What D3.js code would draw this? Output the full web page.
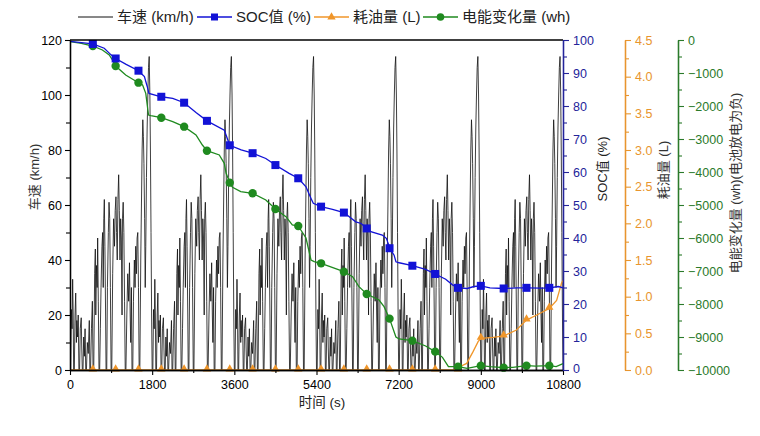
<!DOCTYPE html>
<html><head><meta charset="utf-8">
<script src="https://cdn.jsdelivr.net/npm/d3@7"></script>
<style>
body{margin:0;background:#fff;}
svg{font-family:Arial,"Liberation Sans","Noto Sans CJK SC",sans-serif;}
</style>
</head><body><svg id="c" width="760" height="436"></svg>
<script>
// ---------- data ----------
const xTicks = [0,1800,3600,5400,7200,9000,10800];
const xMinorTicks = [900,2700,4500,6300,8100,9900];
const speedTicks = [0,20,40,60,80,100,120];
const speedMinor = [10,30,50,70,90,110];
const socTicks = [0,10,20,30,40,50,60,70,80,90,100];
const socMinor = [5,15,25,35,45,55,65,75,85,95];
const fuelTicks = [0,0.5,1.0,1.5,2.0,2.5,3.0,3.5,4.0,4.5];
const fuelMinor = [0.25,0.75,1.25,1.75,2.25,2.75,3.25,3.75,4.25];
const energyTicks = [0,-1000,-2000,-3000,-4000,-5000,-6000,-7000,-8000,-9000,-10000];
const energyMinor = [-500,-1500,-2500,-3500,-4500,-5500,-6500,-7500,-8500,-9500];

// one drive cycle (s, km/h), repeated at each cycle start
const cycleStarts = [0,1800,3600,5400,7200,9000];
const cycleT = [0,15,30,45,58,70,80,95,110,125,140,150,165,180,195,210,225,246,258,270,285,300,315,330,345,360,380,400,423,435,450,470,490,505,520,540,555,565,580,595,606,620,635,650,665,680,700,715,728,740,752,765,780,790,805,820,840,855,870,885,900,915,935,955,975,990,1007,1020,1035,1050,1066,1080,1095,1110,1125,1140,1150,1165,1180,1195,1210,1225,1245,1265,1285,1303,1318,1330,1345,1358,1375,1390,1410,1425,1440,1455,1470,1485,1500,1515,1530,1550,1565,1580,1595,1608,1620,1635,1648,1660,1675,1690,1705,1720,1735,1750,1762,1775,1788,1800];
const cycleV = [0,0,22,15,33,20,0,0,20,28,10,18,12,20,0,0,15,19,8,0,0,12,5,15,0,0,10,6,18,0,0,15,25,0,0,35,44,20,38,30,48,25,0,0,15,30,45,50,30,55,62,45,20,0,0,30,50,61,55,30,0,0,35,55,45,58,63,50,40,62,71,58,40,55,48,20,55,61,50,25,0,0,20,35,25,39,20,10,30,0,0,25,40,30,45,35,48,50,30,0,0,40,60,80,91,85,75,55,30,45,70,88,100,110,114,100,80,50,20,0];

// SOC (%)
const socT = [0,250,500,750,900,1000,1230,1500,1630,1690,1730,2000,2250,2500,2760,3000,3380,3450,3500,3750,4000,4290,4500,4800,5000,5170,5280,5330,5500,5750,6000,6260,6380,6500,6590,6840,6930,6980,7000,7100,7140,7210,7500,7790,8000,8230,8380,8500,8700,8850,9000,9200,9500,9800,10000,10300,10500,10700,10800];
const socV = [99.6,99.2,98.8,97.5,95.5,94.4,92.6,90.7,88.9,86,83.8,82.8,82.3,81.0,78.0,75.5,72.7,70,68.1,66.7,65.7,64.1,62.1,59.6,58.1,55.5,52,50.5,49.5,48.7,47.7,44.9,44.4,42.9,41.9,40.9,39.9,38,36.9,34.8,32.8,32.5,31.6,30.5,29.1,27.5,25.8,24.9,24.7,25.3,25.5,24.9,24.7,24.9,24.9,24.8,24.9,25.3,24.9];

// fuel consumption (L)
const fuelT = [0,8500,8540,8690,8830,8940,9000,9270,9500,9780,10000,10290,10500,10660,10770,10800];
const fuelV = [0,0,0.045,0.09,0.25,0.386,0.43,0.446,0.464,0.545,0.68,0.77,0.84,0.95,1.19,1.22];

// electric energy change (wh)
const energyT = [0,250,500,710,860,930,1000,1220,1400,1500,1590,1660,1720,1770,2000,2250,2500,2760,2900,3000,3270,3380,3420,3500,3560,3740,4000,4290,4500,4730,4870,5000,5170,5280,5350,5500,6000,6190,6330,6500,6770,6880,7000,7140,7210,7500,7790,8000,8160,8290,8500,8700,9000,9200,9500,9700,10000,10200,10500,10650,10800];
const energyV = [-50,-100,-182,-303,-455,-606,-788,-1061,-1212,-1293,-1364,-1616,-2273,-2290,-2354,-2475,-2626,-2879,-3182,-3354,-3485,-3737,-4040,-4323,-4465,-4596,-4646,-4848,-5121,-5354,-5606,-5636,-6000,-6667,-6717,-6768,-7020,-7172,-7475,-7697,-7879,-8081,-8444,-9000,-9060,-9111,-9273,-9444,-9616,-9899,-9899,-9950,-9869,-9900,-9929,-9920,-9869,-9880,-9869,-9900,-9808];

// marker positions (every 500 s)
const markerT = [500,1000,1500,2000,2500,3000,3500,4000,4500,5000,5500,6000,6500,7000,7500,8000,8500,9000,9500,10000,10500];
const socMarkV = [98.8,94.4,90.7,82.8,81.0,75.5,68.1,65.7,62.1,58.1,49.5,47.7,42.9,36.9,31.6,29.1,24.9,25.5,24.7,24.9,24.9];
const fuelMarkV = [0,0,0,0,0,0,0,0,0,0,0,0,0,0,0,0,0,0.43,0.464,0.68,0.84];
const energyMarkV = [-182,-788,-1293,-2354,-2626,-3354,-4323,-4646,-5121,-5636,-6768,-7020,-7697,-8444,-9111,-9444,-9899,-9869,-9929,-9869,-9869];

const legendLabels = ["车速 (km/h)","SOC值 (%)","耗油量 (L)","电能变化量 (wh)"];

// ---------- styles ----------
const C = {
  speed:"#111111",
  soc:"#1212d6", socAxis:"#24249a",
  fuel:"#f0962a", fuelAxis:"#e8952e",
  energy:"#1f8a1f", energyAxis:"#2b7a2b"
};
const L=70, R=563, T=40, B=370;

const svg = d3.select("#c");
const x = d3.scaleLinear([0,10800],[L,R]);
const yS = d3.scaleLinear([0,120],[B,T]);
const ySoc = d3.scaleLinear([0,100],[B,T]);
const yF = d3.scaleLinear([0,4.5],[B,T]);
const yE = d3.scaleLinear([-10000,0],[B,T]);

// speed series
const speedData = [];
cycleStarts.forEach(s => cycleT.forEach((t,i) => speedData.push([s+t, cycleV[i]])));

svg.append("path").datum(speedData)
  .attr("fill","none").attr("stroke",C.speed).attr("stroke-width",0.9).attr("stroke-opacity",0.9)
  .attr("d", d3.line().x(d=>x(d[0])).y(d=>yS(d[1])));

function drawLine(T_,V_,ys,color,w){
  svg.append("path").datum(d3.zip(T_,V_))
    .attr("fill","none").attr("stroke",color).attr("stroke-width",w)
    .attr("d", d3.line().x(d=>x(d[0])).y(d=>ys(d[1])));
}
drawLine(fuelT,fuelV,yF,C.fuel,1.3);
drawLine(energyT,energyV,yE,C.energy,1.3);
drawLine(socT,socV,ySoc,C.soc,1.3);

// markers
const tri = d3.symbol().type(d3.symbolTriangle).size(30);
svg.append("g").selectAll("path").data(d3.zip(markerT,fuelMarkV)).join("path")
  .attr("d",tri).attr("fill",C.fuel)
  .attr("transform",d=>`translate(${x(d[0])},${yF(d[1])-1})`);
svg.append("g").selectAll("circle").data(d3.zip(markerT,energyMarkV)).join("circle")
  .attr("cx",d=>x(d[0])).attr("cy",d=>yE(d[1])).attr("r",4.2).attr("fill",C.energy);
svg.append("g").selectAll("rect").data(d3.zip(markerT,socMarkV)).join("rect")
  .attr("x",d=>x(d[0])-4).attr("y",d=>ySoc(d[1])-4).attr("width",8).attr("height",8).attr("fill",C.soc);

// ---------- axes ----------
function styleAxis(g,color,fs){
  g.select(".domain").attr("stroke",color).attr("stroke-width",1.3);
  g.selectAll(".tick line").attr("stroke",color).attr("stroke-width",1.1);
  g.selectAll(".tick text").attr("fill",color).attr("font-size",fs).attr("font-family","Arial, 'Liberation Sans', sans-serif");
}
// top border
svg.append("line").attr("x1",L).attr("x2",R).attr("y1",T).attr("y2",T).attr("stroke","#000").attr("stroke-width",1.3);

// bottom
let g = svg.append("g").attr("transform",`translate(0,${B})`)
  .call(d3.axisBottom(x).tickValues(xMinorTicks).tickFormat("").tickSize(3).tickSizeOuter(0));
styleAxis(g,"#000","12.5px");
g = svg.append("g").attr("transform",`translate(0,${B})`)
  .call(d3.axisBottom(x).tickValues(xTicks).tickFormat(d3.format("d")).tickSize(5).tickPadding(5).tickSizeOuter(0));
styleAxis(g,"#000","12.5px");

// left
g = svg.append("g").attr("transform",`translate(${L},0)`)
  .call(d3.axisLeft(yS).tickValues(speedMinor).tickFormat("").tickSize(4).tickSizeOuter(0));
styleAxis(g,"#000","12.5px");
g = svg.append("g").attr("transform",`translate(${L},0)`)
  .call(d3.axisLeft(yS).tickValues(speedTicks).tickSize(5).tickPadding(3).tickSizeOuter(0));
styleAxis(g,"#000","12.5px");

function rightAxis(xPos, scale, major, minor, fmt, color){
  let g1 = svg.append("g").attr("transform",`translate(${xPos},0)`)
    .call(d3.axisRight(scale).tickValues(minor).tickFormat("").tickSize(4).tickSizeOuter(0));
  styleAxis(g1,color,"12.5px");
  let g2 = svg.append("g").attr("transform",`translate(${xPos},0)`)
    .call(d3.axisRight(scale).tickValues(major).tickFormat(fmt).tickSize(6).tickPadding(4).tickSizeOuter(0));
  styleAxis(g2,color,"12.5px");
  return g2;
}
const socAxisG = rightAxis(R, ySoc, socTicks, socMinor, d3.format("d"), C.socAxis);
// nudge SOC "0" label up slightly to keep clear of the x tick label
socAxisG.selectAll(".tick text").filter(d=>d===0).attr("dy","0.2em");
rightAxis(625, yF, fuelTicks, fuelMinor, d3.format(".1f"), C.fuelAxis);
rightAxis(678, yE, energyTicks, energyMinor, d3.format("d"), C.energyAxis);

// axis titles
function vTitle(cx, cy, text, color){
  svg.append("text").attr("transform",`translate(${cx},${cy}) rotate(-90)`)
    .attr("text-anchor","middle").attr("dy","0.35em")
    .attr("font-size","13px").attr("fill",color).text(text);
}
vTitle(34,177,"车速 (km/h)","#333");
vTitle(602,169,"SOC值 (%)","#222");
vTitle(663,170,"耗油量 (L)","#333");
vTitle(735,183,"电能变化量 (wh)(电池放电为负)","#333");
svg.append("text").attr("x",322).attr("y",407).attr("text-anchor","middle")
  .attr("font-size","13.5px").attr("fill","#222").text("时间 (s)");

// ---------- legend ----------
const legendX = [78,197,314,423];
const legendColors = [C.speed,C.soc,C.fuel,C.energy];
const ly = 17;
legendLabels.forEach((lab,i)=>{
  const x0 = legendX[i], x1 = x0+35, xm = (x0+x1)/2;
  svg.append("line").attr("x1",x0).attr("x2",x1).attr("y1",ly).attr("y2",ly)
    .attr("stroke",legendColors[i]).attr("stroke-width",i===0?1:1.5);
  if(i===1) svg.append("rect").attr("x",xm-3.5).attr("y",ly-3.5).attr("width",7).attr("height",7).attr("fill",C.soc);
  if(i===2) svg.append("path").attr("d",tri).attr("fill",C.fuel).attr("transform",`translate(${xm},${ly})`);
  if(i===3) svg.append("circle").attr("cx",xm).attr("cy",ly).attr("r",3.8).attr("fill",C.energy);
  svg.append("text").attr("x",x1+4).attr("y",ly).attr("dy","0.35em")
    .attr("font-size","15px").attr("fill","#222").text(lab);
});
</script>
</body></html>
